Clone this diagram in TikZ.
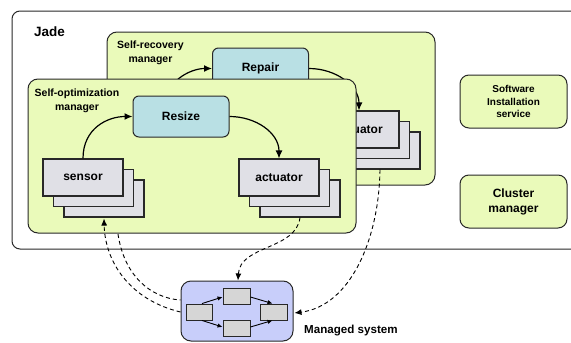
\documentclass[tikz,border=0pt]{standalone}
\usepackage{fontspec}
\setmainfont{Liberation Sans}
\usetikzlibrary{arrows.meta,calc}
\definecolor{mgr}{RGB}{234,250,186}
\definecolor{actc}{RGB}{185,224,228}
\definecolor{stk}{RGB}{224,224,230}
\definecolor{msys}{RGB}{200,206,250}
\definecolor{inbox}{RGB}{214,214,214}
\definecolor{edge}{RGB}{40,40,40}
\begin{document}
\begin{tikzpicture}[x=1pt,y=-1pt,
  mgrbox/.style={draw=edge, fill=mgr, rounded corners=10pt, line width=1pt, minimum width=328pt, minimum height=153pt, inner sep=0pt},
  mgrlabel/.style={align=center, font=\bfseries\fontsize{10.5}{14}\selectfont, inner sep=0pt},
  stackbox/.style={draw=edge, fill=stk, line width=1.1pt, minimum width=80pt, minimum height=37pt, inner sep=0pt, font=\bfseries\fontsize{12}{14}\selectfont},
  actbox/.style={draw=edge, fill=actc, rounded corners=6pt, line width=1pt, minimum width=96pt, minimum height=41pt, inner sep=0pt, font=\bfseries\fontsize{12}{14}\selectfont},
  svcbox/.style={draw=edge, fill=mgr, rounded corners=9pt, line width=1pt, minimum width=107pt, minimum height=53pt, inner sep=0pt, align=center},
  smallbox/.style={draw=edge, fill=inbox, line width=0.9pt, minimum width=26pt, minimum height=16pt, inner sep=0pt},
  flow/.style={line width=1.2pt, -{Latex[length=8pt,width=7pt]}},
  small/.style={line width=0.9pt, -{Latex[length=5pt,width=4.5pt]}},
  dsh/.style={line width=0.9pt, dash pattern=on 4pt off 3pt},
  dsharrow/.style={dsh, -{Latex[length=7pt,width=6pt]}}
]
\useasboundingbox (0,0) rectangle (571,343);
% Jade
\draw[draw=edge, line width=1pt, rounded corners=8pt, fill=white] (572,11) -- (12,11) -- (12,249) -- (572,249);
\node[anchor=base west, font=\bfseries\fontsize{13.5}{16}\selectfont, inner sep=0pt] (jade) at (34,36) {Jade};

% Self-recovery manager
\node[mgrbox] (srm) at (271,108.5) {};
\node[mgrlabel] (srml) at (150.5,53) {Self-recovery\\manager};
\node[stackbox] (rb3) at (380,150.5) {};
\node[stackbox] (rb2) at (369.5,140) {};
\node[stackbox] (rb1) at (359,129.5) {actuator};
\node[actbox] (rp) at (260.5,68.5) {Repair};
\coordinate (rsn) at (163,111);
\draw[flow] (rsn) .. controls (163,82) and (190,68.5) .. (rp.west);
\draw[flow] (rp.east) .. controls (336,68.5) and (359,86) .. (rb1.north);

% Self-optimization manager
\node[mgrbox, minimum height=154pt] (som) at (192,156) {};
\node[mgrlabel] (soml) at (77,101) {Self-optimization\\manager};
\node[actbox] (rz) at (181,116.5) {Resize};
\node[stackbox] (sb3) at (104,198.5) {};
\node[stackbox] (sb2) at (93.5,188) {};
\node[stackbox] (sb1) at (83,177.5) {sensor};
\node[stackbox] (ab3) at (300,198.5) {};
\node[stackbox] (ab2) at (289.5,188) {};
\node[stackbox] (ab1) at (279,177.5) {actuator};
\draw[flow] (sb1.north) .. controls (83,128) and (108,116.5) .. (rz.west);
\draw[flow] (rz.east) .. controls (256,116.5) and (279,133) .. (ab1.north);

% Services
\node[svcbox, font=\bfseries\fontsize{10}{12.5}\selectfont] (sis) at (513.5,101.5) {Software\\Installation\\service};
\node[svcbox, font=\bfseries\fontsize{12}{15}\selectfont] (cm) at (513.5,201.5) {Cluster\\manager};

% Managed system
\node[draw=edge, fill=msys, rounded corners=10pt, line width=1pt, minimum width=112pt, minimum height=60pt, inner sep=0pt] (ms) at (237,311) {};
\node[smallbox] (mL) at (199,312) {};
\node[smallbox, minimum width=27pt] (mT) at (236.5,296) {};
\node[smallbox, minimum width=27pt] (mB) at (236.5,328) {};
\node[smallbox, minimum width=27pt] (mR) at (273.5,312) {};
\draw[small] ($(mL.north)+(3,0)$) -- ($(mT.west)+(0,1)$);
\draw[small] ($(mT.east)+(0,1)$) -- ($(mR.north)+(-1,0)$);
\draw[small] ($(mL.south)+(3,0)$) -- ($(mB.west)+(0,-1)$);
\draw[small] ($(mB.east)+(0,-1)$) -- ($(mR.south)+(-1,0)$);
\node[anchor=base west, font=\bfseries\fontsize{11.6}{14}\selectfont, inner sep=0pt] (msl) at (304,333) {Managed system};

% Dashed connectors
\coordinate (rs) at (118,234);
\draw[dsharrow] ($(ms.west)+(0,1)$) .. controls (130,300) and (105,262) .. ($(sb3.south)+(0,1)$);
\draw[dsh] (rs) .. controls (124,275) and (150,298) .. ($(ms.west)+(0,-11)$);
\draw[dsharrow] (ab3.south) .. controls (296,250) and (240,245) .. ($(ms.north)+(1,0)$);
\draw[dsharrow] (rb3.south) .. controls (379,240) and (350,306) .. ($(ms.east)+(1,2)$);
\end{tikzpicture}
\end{document}
